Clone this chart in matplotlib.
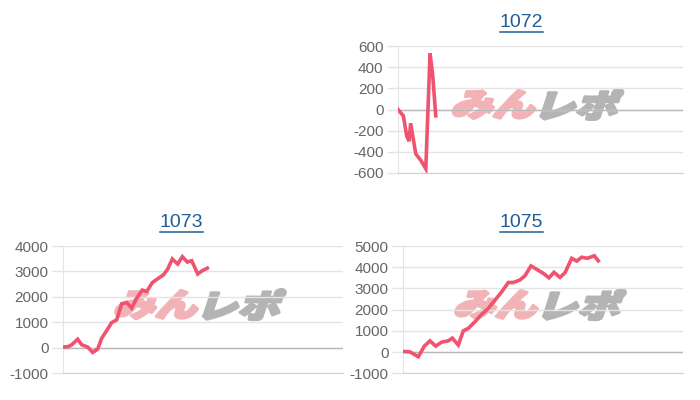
import matplotlib
matplotlib.use('Agg')
import matplotlib.pyplot as plt
from matplotlib.lines import Line2D
from matplotlib.textpath import TextPath
from matplotlib.patches import PathPatch
from matplotlib.font_manager import FontProperties
from matplotlib.transforms import Affine2D

plt.rcParams['font.family'] = ['Liberation Sans', 'DejaVu Sans']

# machine numbers shown above each chart
titles = ['1072', '1073', '1075']

# games played / coin difference for each machine
g1072 = [0, 150, 245, 310, 355, 500, 640, 780, 900, 975, 1060]
v1072 = [0, -60, -250, -300, -130, -420, -480, -560, 530, 320, -60]

g1073 = [0, 151, 249, 420, 534, 706, 849, 991, 1106, 1249, 1391, 1534, 1677, 1820, 1963,
         2106, 2266, 2391, 2551, 2723, 2866, 2991, 3123, 3277, 3409, 3551, 3677, 3849, 3980, 4123]
v1073 = [30, 50, 120, 340, 120, 30, -180, -50, 380, 680, 990, 1100, 1730, 1780, 1560,
         1950, 2270, 2210, 2560, 2730, 2860, 3090, 3490, 3290, 3580, 3370, 3420, 2900, 3030, 3130]

g1075 = [0, 200, 437, 609, 771, 934, 1106, 1294, 1409, 1580, 1723, 1866, 2057, 2249, 2437,
         2629, 2820, 3009, 3151, 3343, 3486, 3657, 3820, 4009, 4171, 4314, 4486, 4629, 4820,
         4963, 5106, 5266, 5466, 5580]
v1075 = [30, 10, -220, 280, 530, 280, 470, 530, 660, 330, 1000, 1120, 1430, 1780, 2060,
         2450, 2840, 3280, 3280, 3400, 3600, 4060, 3900, 3710, 3500, 3760, 3520, 3740, 4420,
         4290, 4470, 4420, 4540, 4300]

# y ticks for each chart
ticks1072 = [-600, -400, -200, 0, 200, 400, 600]
ticks1073 = [-1000, 0, 1000, 2000, 3000, 4000]
ticks1075 = [-1000, 0, 1000, 2000, 3000, 4000, 5000]

line_color = '#ef5370'
title_color = '#1f5e97'
grid_color = '#e4e4e4'

fig = plt.figure(figsize=(7, 4), dpi=100)

# axes rectangles in figure fractions
ax1 = fig.add_axes([398/700, 1-173/400, 285/700, 127/400])
ax2 = fig.add_axes([63/700, 1-373.3/400, 280/700, 127.3/400])
ax3 = fig.add_axes([403/700, 1-373.3/400, 280/700, 127.3/400])

charts = [(ax1, g1072, v1072, ticks1072),
          (ax2, g1073, v1073, ticks1073),
          (ax3, g1075, v1075, ticks1075)]

for ax, g, v, t in charts:
    ax.set_facecolor('none')
    ax.plot(g, v, color=line_color, linewidth=2.6, zorder=3, solid_joinstyle='miter')
    ax.set_xlim(0, 8000)
    ax.set_ylim(t[0], t[-1])
    ax.set_yticks(t)
    ax.set_yticklabels([str(x) for x in t])
    ax.set_xticks([])
    ax.tick_params(axis='y', length=8, pad=2.5, color=grid_color, labelcolor='#666666',
                   labelsize=11, width=1)
    ax.set_axisbelow(True)
    ax.grid(True, axis='y', color=grid_color, linewidth=1)
    # darker zero line
    ax.axhline(0, color='#b8b8b8', linewidth=1, zorder=1)
    for s in ['top', 'right']:
        ax.spines[s].set_visible(False)
    ax.spines['left'].set_color(grid_color)
    ax.spines['bottom'].set_color('#d0d0d0')

# titles (underlined like links)
title_pos = [(521.7, 22.7), (181.7, 222.7), (521.7, 222.7)]
title_texts = []
for name, (x, y) in zip(titles, title_pos):
    tt = fig.text(x/700, 1-y/400, name, ha='center', va='center', fontsize=14,
                  color=title_color)
    title_texts.append(tt)

fig.canvas.draw()
renderer = fig.canvas.get_renderer()
for tt in title_texts:
    bb = tt.get_window_extent(renderer)
    yy = bb.y0 - 1.0
    fig.add_artist(Line2D([bb.x0/700, bb.x1/700], [yy/400, yy/400], color=title_color,
                          linewidth=1.1, transform=fig.transFigure))

# watermark "みんレポ" slanted and heavy, behind the grid
fp = FontProperties(family='Noto Sans CJK JP', weight='heavy')
for ax, _, _, _ in charts:
    cx, cy = ax.transAxes.transform((0.5, 0.54))
    p1 = TextPath((0, 0), 'みん', size=40, prop=fp)
    p2 = TextPath((0, 0), 'レポ', size=40, prop=fp)
    e1 = p1.get_extents()
    e2 = p2.get_extents()
    tr1 = Affine2D().translate(-e1.x1, -(e1.y0 + e1.y1)/2).scale(1.05, 0.8).skew_deg(18, 0).translate(cx - 4, cy)
    tr2 = Affine2D().translate(-e2.x0, -(e2.y0 + e2.y1)/2).scale(1.05, 0.8).skew_deg(18, 0).translate(cx + 4, cy)
    ax.add_artist(PathPatch(p1, transform=tr1, facecolor='#f2b3b6', edgecolor='#f2b3b6',
                            linewidth=2.2, joinstyle='round', zorder=0.1))
    ax.add_artist(PathPatch(p2, transform=tr2, facecolor='#b4b4b4', edgecolor='#b4b4b4',
                            linewidth=2.2, joinstyle='round', zorder=0.1))

fig.savefig('out.png', dpi=100)
